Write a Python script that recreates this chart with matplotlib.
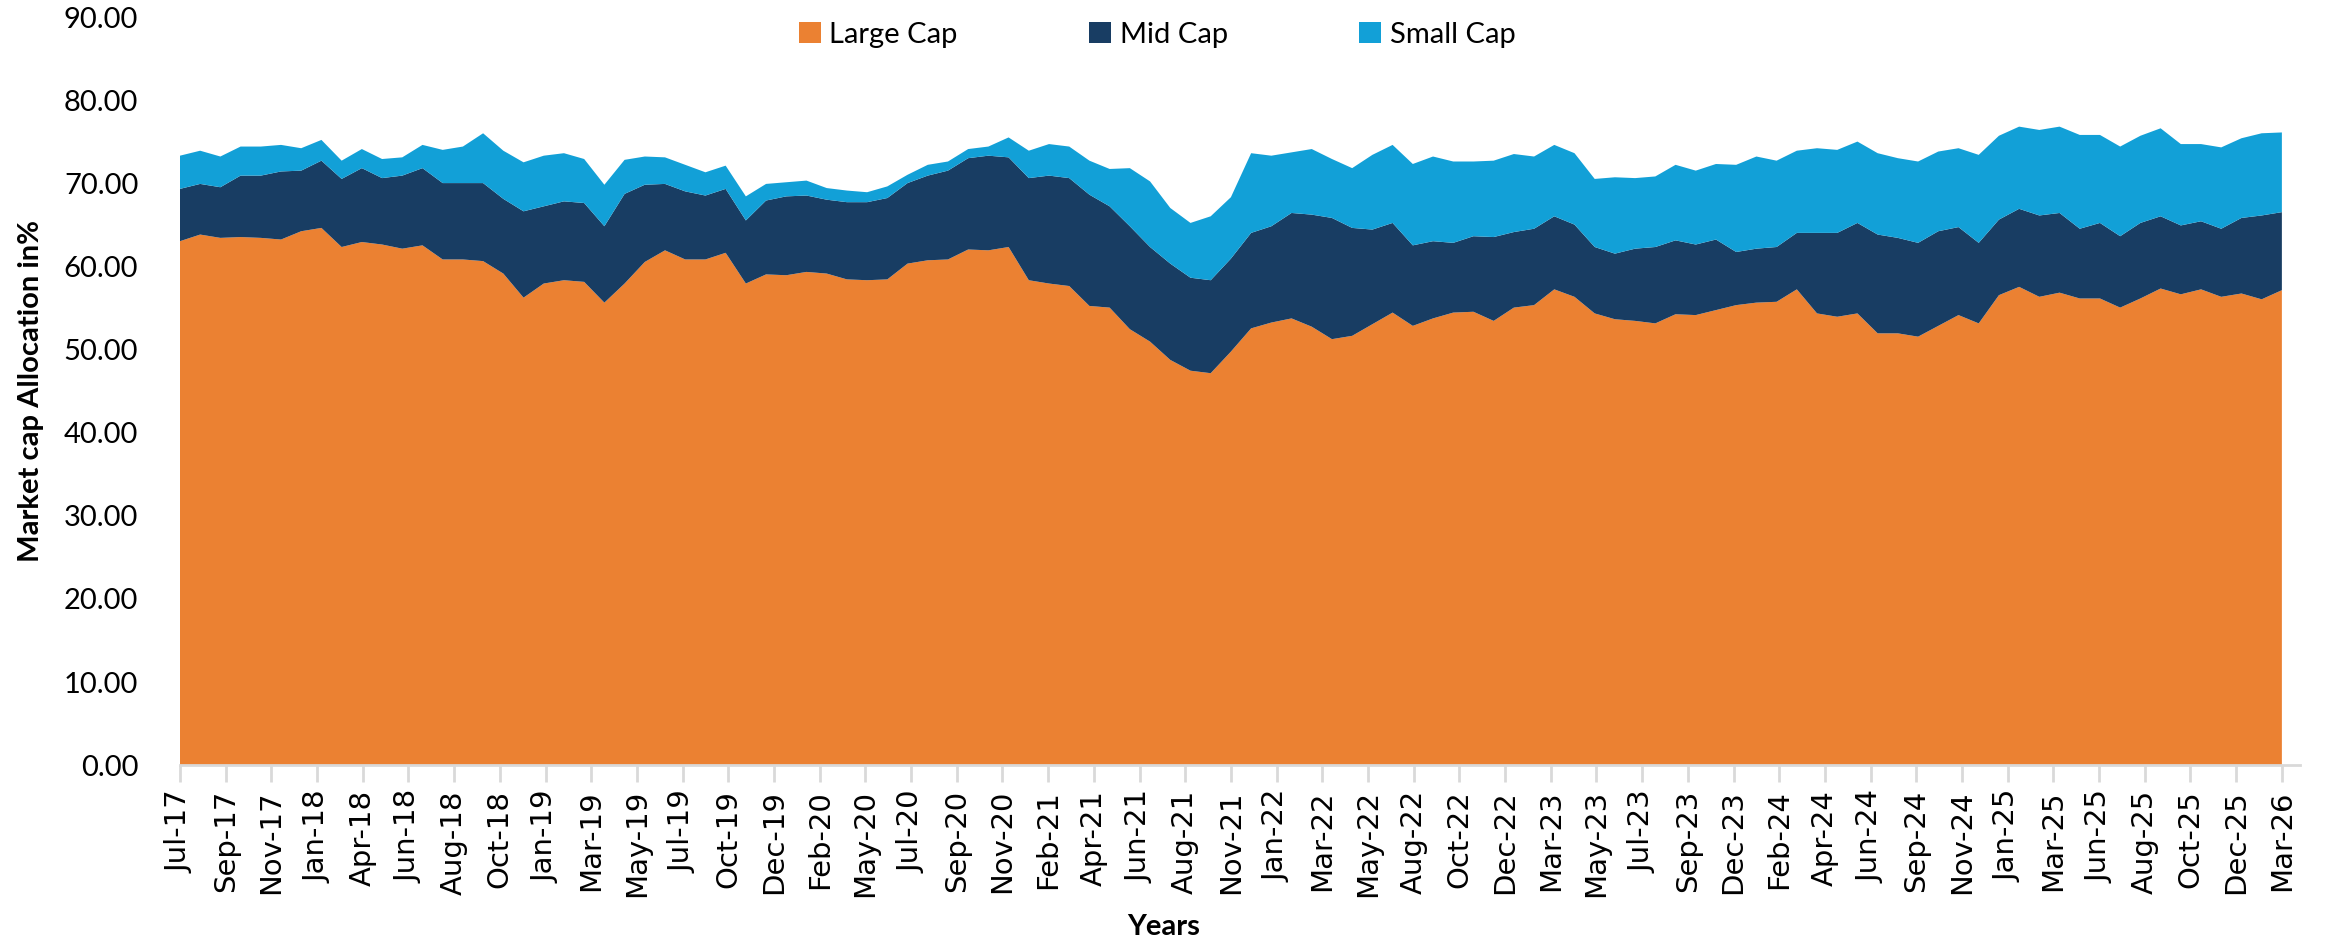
import numpy as np
import matplotlib
matplotlib.use("Agg")
import matplotlib.pyplot as plt

# monthly allocation (%), Jul-17 .. Mar-26
large_cap = [63.1, 63.9, 63.5, 63.6, 63.5, 63.3, 64.3, 64.7, 62.4, 63.0,
             62.7, 62.2, 62.6, 60.9, 60.9, 60.7, 59.2, 56.3, 58.0, 58.4,
             58.2, 55.7, 58.0, 60.6, 62.0, 60.9, 60.9, 61.7, 58.0, 59.1,
             59.0, 59.4, 59.2, 58.5, 58.4, 58.5, 60.4, 60.8, 60.9, 62.1,
             62.0, 62.4, 58.4, 58.0, 57.7, 55.3, 55.1, 52.5, 51.0, 48.8,
             47.5, 47.2, 49.8, 52.6, 53.3, 53.8, 52.8, 51.3, 51.7, 53.1,
             54.5, 52.9, 53.8, 54.5, 54.6, 53.5, 55.1, 55.4, 57.3, 56.4,
             54.4, 53.7, 53.5, 53.2, 54.3, 54.2, 54.8, 55.4, 55.7, 55.8,
             57.3, 54.4, 54.0, 54.4, 52.0, 52.0, 51.6, 52.9, 54.2, 53.2,
             56.6, 57.6, 56.4, 56.9, 56.2, 56.2, 55.1, 56.2, 57.4, 56.7,
             57.3, 56.4, 56.8, 56.1, 57.2]
mid_cap = [6.3, 6.1, 6.1, 7.4, 7.5, 8.2, 7.3, 8.1, 8.2, 8.9,
           8.0, 8.8, 9.3, 9.2, 9.2, 9.4, 9.0, 10.4, 9.3, 9.5,
           9.5, 9.2, 10.8, 9.3, 8.0, 8.2, 7.7, 7.7, 7.6, 8.9,
           9.5, 9.2, 8.9, 9.3, 9.4, 9.8, 9.7, 10.2, 10.7, 11.0,
           11.4, 10.8, 12.3, 13.0, 13.0, 13.4, 12.2, 12.4, 11.4, 11.6,
           11.2, 11.2, 11.2, 11.5, 11.6, 12.7, 13.5, 14.6, 13.0, 11.4,
           10.8, 9.7, 9.3, 8.4, 9.1, 10.1, 9.1, 9.2, 8.8, 8.7,
           8.0, 7.9, 8.7, 9.2, 8.9, 8.5, 8.5, 6.4, 6.5, 6.6,
           6.8, 9.7, 10.1, 10.9, 11.9, 11.5, 11.3, 11.4, 10.6, 9.7,
           9.1, 9.4, 9.8, 9.6, 8.4, 9.1, 8.6, 9.1, 8.7, 8.3,
           8.2, 8.2, 9.1, 10.1, 9.4]
small_cap = [4.0, 4.0, 3.7, 3.5, 3.5, 3.2, 2.7, 2.5, 2.2, 2.3,
             2.3, 2.2, 2.8, 4.0, 4.4, 6.0, 5.8, 5.9, 6.1, 5.8,
             5.3, 5.0, 4.1, 3.4, 3.2, 3.2, 2.8, 2.8, 2.9, 2.0,
             1.7, 1.8, 1.4, 1.4, 1.2, 1.4, 1.0, 1.3, 1.1, 1.1,
             1.1, 2.4, 3.3, 3.8, 3.8, 4.1, 4.5, 7.0, 7.9, 6.7,
             6.6, 7.7, 7.4, 9.6, 8.5, 7.3, 7.9, 7.1, 7.2, 9.0,
             9.4, 9.8, 10.2, 9.8, 9.0, 9.2, 9.4, 8.7, 8.6, 8.6,
             8.2, 9.2, 8.5, 8.5, 9.1, 8.9, 9.1, 10.5, 11.1, 10.4,
             9.9, 10.2, 10.0, 9.8, 9.8, 9.6, 9.8, 9.6, 9.5, 10.6,
             10.1, 9.9, 10.3, 10.4, 11.3, 10.6, 10.8, 10.5, 10.6, 9.8,
             9.3, 9.8, 9.6, 9.9, 9.6]

tick_labels = ["Jul-17", "Sep-17", "Nov-17", "Jan-18", "Apr-18", "Jun-18", "Aug-18",
               "Oct-18", "Jan-19", "Mar-19", "May-19", "Jul-19", "Oct-19", "Dec-19",
               "Feb-20", "May-20", "Jul-20", "Sep-20", "Nov-20", "Feb-21", "Apr-21",
               "Jun-21", "Aug-21", "Nov-21", "Jan-22", "Mar-22", "May-22", "Aug-22",
               "Oct-22", "Dec-22", "Mar-23", "May-23", "Jul-23", "Sep-23", "Dec-23",
               "Feb-24", "Apr-24", "Jun-24", "Sep-24", "Nov-24", "Jan-25", "Mar-25",
               "Jun-25", "Aug-25", "Oct-25", "Dec-25", "Mar-26"]

series_names = ["Large Cap", "Mid Cap", "Small Cap"]
colors = ["#EB8132", "#183D63", "#12A0D7"]

x = np.arange(len(large_cap))

fig = plt.figure(figsize=(23.28, 9.41), dpi=100)
ax = fig.add_axes([0.0773, 0.187, 0.9107, 0.794])

ax.stackplot(x, large_cap, mid_cap, small_cap, colors=colors, labels=series_names, lw=0)

ax.set_ylim(0, 90)
ax.set_xlim(0, len(x) - 0.1)
ax.set_yticks(np.arange(0, 91, 10))
ax.set_yticklabels([f"{v:.2f}" for v in np.arange(0, 91, 10)], family="Lato", fontsize=21)
ax.tick_params(axis="y", length=0, pad=30)

ax.set_xticks(np.linspace(0, len(x) - 1, len(tick_labels)))
ax.set_xticklabels(tick_labels, rotation=90, fontsize=21, family="DejaVu Sans")
ax.tick_params(axis="x", length=12, width=2, color="#d9d9d9", pad=6)

for s in ["top", "right", "left"]:
    ax.spines[s].set_visible(False)
ax.spines["bottom"].set_color("#d9d9d9")
ax.spines["bottom"].set_linewidth(2)

ax.set_ylabel("Market cap Allocation in%", family="Lato", fontsize=21, fontweight="bold")
ax.yaxis.set_label_coords(-0.064, 0.5)
fig.text(0.5, 0.015, "Years", family="Lato", fontsize=21, fontweight="bold", ha="center", va="center")

fig.legend(loc="upper center", bbox_to_anchor=(0.497, 1.005), ncol=3, frameon=False,
           prop={"family": "Lato", "size": 21}, handlelength=0.75, handleheight=0.75,
           handletextpad=0.3, columnspacing=4.5)

fig.savefig("out.png", dpi=100)
